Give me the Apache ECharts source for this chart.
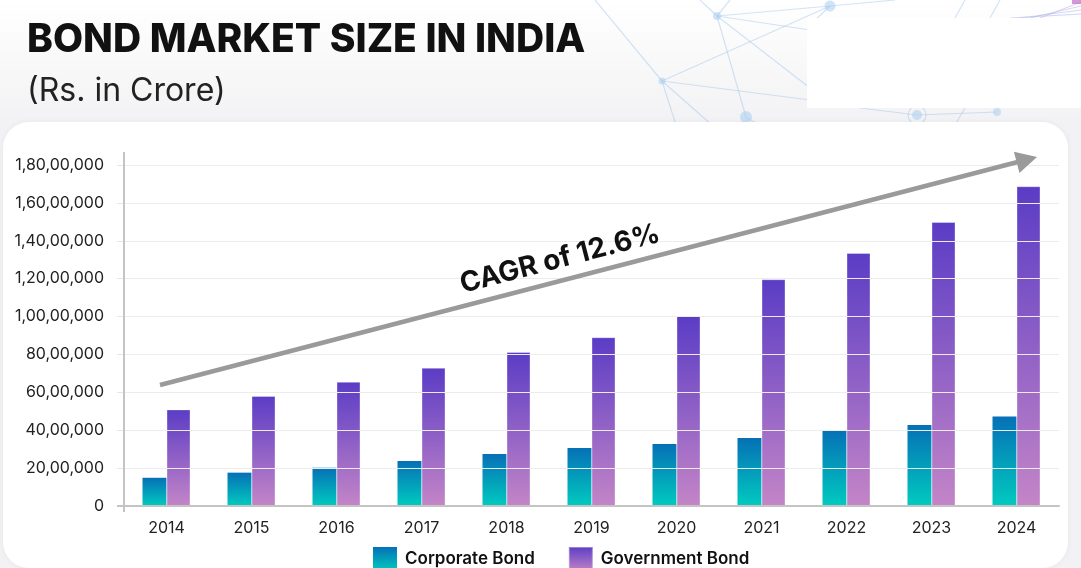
<!DOCTYPE html>
<html>
<head>
<meta charset="utf-8">
<style>
  html, body { margin: 0; padding: 0; background: #ffffff; }
  #chart { width: 1081px; height: 568px; }
</style>
<script src="https://cdn.jsdelivr.net/npm/echarts@6/dist/echarts.min.js"></script>
</head>
<body>
<div id="chart"></div>
<script>
// ---- data ----
const years = ['2014','2015','2016','2017','2018','2019','2020','2021','2022','2023','2024'];
const corporateBond = [1490000, 1760000, 2020000, 2380000, 2740000, 3060000, 3270000, 3590000, 4010000, 4280000, 4730000];
const governmentBond = [5100000, 5810000, 6560000, 7300000, 8130000, 8910000, 10030000, 11970000, 13360000, 14990000, 16880000];
const seriesNames = ['Corporate Bond', 'Government Bond'];
const titleText = 'BOND MARKET SIZE IN INDIA';
const subtitleText = '(Rs. in Crore)';
const cagrText = 'CAGR of 12.6%';

function inr(v) {
  const s = String(Math.round(v));
  if (s.length <= 3) return s;
  const last3 = s.slice(-3);
  let rest = s.slice(0, -3);
  rest = rest.replace(/\B(?=(\d{2})+(?!\d))/g, ',');
  return rest + ',' + last3;
}

const FONT = 'Inter, "Noto Sans", sans-serif';
const netColor = 'rgba(160,196,235,0.45)';
const nodeColor = 'rgba(170,205,240,0.55)';

function ln(x1, y1, x2, y2, w, c, z) {
  return { type: 'line', z: z || 1, silent: true,
    shape: { x1: x1, y1: y1, x2: x2, y2: y2 },
    style: { stroke: c || netColor, lineWidth: w || 1.2 } };
}
function node(cx, cy, r) {
  return { type: 'circle', z: 1, silent: true, shape: { cx: cx, cy: cy, r: r }, style: { fill: nodeColor } };
}

// arrow geometry (annotation)
const tip = [1037, 157], start = [160, 385];
const dx = tip[0] - start[0], dy = tip[1] - start[1];
const L = Math.sqrt(dx * dx + dy * dy);
const ux = dx / L, uy = dy / L, nx = -uy, ny = ux;
const headLen = 21, headHalf = 11;
const base = [tip[0] - ux * headLen, tip[1] - uy * headLen];
const angle = Math.atan2(-dy, dx);

const graphics = [
  // network decoration
  ln(595, 0, 662, 81),
  ln(662, 81, 830, 6),
  ln(662, 81, 810, 100),
  ln(662, 81, 676, 125),
  ln(662, 81, 712, 125),
  ln(717, 16, 830, 6),
  ln(717, 16, 810, 30),
  ln(717, 16, 746, 117),
  ln(717, 16, 810, 88),
  ln(700, 0, 717, 16),
  ln(730, 0, 717, 16),
  ln(830, 6, 895, 0),
  ln(830, 6, 810, 25),
  ln(745, 117, 760, 125),
  ln(917, 115, 997, 112),
  ln(860, 108, 917, 115),
  ln(955, 125, 965, 108),
  ln(955, 18, 965, 0),
  ln(990, 18, 1000, 0),
  node(662, 81, 3.5),
  node(717, 16, 4),
  node(830, 6, 5.5),
  node(746, 117, 6),
  node(917, 115, 5),
  { type: 'circle', z: 1, silent: true, shape: { cx: 917, cy: 115, r: 9 }, style: { fill: 'none', stroke: nodeColor, lineWidth: 1.2 } },
  node(997, 112, 4),
  // purple fan top right
  ln(1040, 18, 1081, 2, 1, 'rgba(200,160,220,0.5)'),
  ln(1030, 18, 1081, 6, 1, 'rgba(170,180,235,0.5)'),
  ln(1020, 18, 1081, 10, 1, 'rgba(170,180,235,0.5)'),
  ln(1010, 18, 1081, 14, 1, 'rgba(170,180,235,0.5)'),
  { type: 'rect', z: 1, silent: true, shape: { x: 1072, y: 0, width: 9, height: 4 }, style: { fill: 'rgba(190,110,200,0.7)' } },
  // white patch
  { type: 'rect', z: 2, silent: true, shape: { x: 807, y: 18, width: 274, height: 90 }, style: { fill: '#ffffff' } },
  // card
  { type: 'rect', z: 3, silent: true, shape: { x: 3, y: 122, width: 1065, height: 446, r: 26 },
    style: { fill: '#ffffff', shadowBlur: 6, shadowColor: 'rgba(0,0,0,0.05)' } },
  // y axis line extension
  ln(124, 152, 124, 512, 2, '#c4c4c4', 50),
  ln(117, 506, 124, 506, 2, '#c4c4c4', 50),
  // trend arrow
  { type: 'line', z: 100, silent: true,
    shape: { x1: start[0], y1: start[1], x2: base[0] + ux * 2, y2: base[1] + uy * 2 },
    style: { stroke: '#9a9a9a', lineWidth: 4.5 } },
  { type: 'polygon', z: 100, silent: true,
    shape: { points: [tip, [base[0] + nx * headHalf, base[1] + ny * headHalf], [base[0] - nx * headHalf, base[1] - ny * headHalf]] },
    style: { fill: '#9a9a9a' } },
  { type: 'text', z: 101, silent: true, x: 560, y: 259, rotation: angle,
    style: { text: cagrText, font: 'bold 28px ' + FONT, fill: '#111111', align: 'center', verticalAlign: 'middle' } }
];

const chart = echarts.init(document.getElementById('chart'), null, { renderer: 'canvas' });
chart.setOption({
  backgroundColor: new echarts.graphic.LinearGradient(0, 0, 0, 1, [
    { offset: 0, color: '#ffffff' },
    { offset: 0.22, color: '#f2f2f4' },
    { offset: 1, color: '#f2f2f4' }
  ]),
  animation: false,
  title: {
    text: titleText,
    subtext: subtitleText,
    left: 22,
    top: 16,
    itemGap: 15,
    z: 20,
    textStyle: { fontFamily: FONT, fontSize: 39, fontWeight: 800, color: '#111111', letterSpacing: -0.1 },
    subtextStyle: { fontFamily: FONT, fontSize: 32, fontWeight: 400, color: '#222222', letterSpacing: -0.5 }
  },
  graphic: graphics,
  legend: {
    data: seriesNames,
    top: 541,
    left: 368,
    itemWidth: 24,
    itemHeight: 24,
    itemGap: 33,
    icon: 'rect',
    z: 20,
    textStyle: { fontFamily: FONT, fontSize: 17, fontWeight: 600, color: '#111111', padding: [3, 0, 0, 3] }
  },
  grid: { left: 124, right: 22, top: 165, bottom: 62, containLabel: false },
  xAxis: {
    type: 'category',
    data: years,
    z: 10,
    axisLine: { lineStyle: { color: '#c4c4c4', width: 2 } },
    axisTick: { show: false },
    axisLabel: { fontFamily: FONT, fontSize: 16, color: '#222222', margin: 14 }
  },
  yAxis: {
    type: 'value',
    min: 0,
    max: 18000000,
    interval: 2000000,
    z: 10,
    axisLine: { show: true, lineStyle: { color: '#c4c4c4', width: 2 } },
    axisTick: { show: true, length: 7, lineStyle: { color: '#e6e6e6' } },
    splitLine: { lineStyle: { color: '#ececec', width: 1 } },
    axisLabel: { fontFamily: FONT, fontSize: 16, color: '#222222', margin: 20, formatter: inr }
  },
  series: [
    {
      name: seriesNames[0],
      type: 'bar',
      data: corporateBond,
      barWidth: 24,
      barGap: '0%',
      z: 5,
      itemStyle: {
        color: new echarts.graphic.LinearGradient(0, 0, 0, 1, [
          { offset: 0, color: '#0670b6' },
          { offset: 1, color: '#00cbbf' }
        ])
      }
    },
    {
      name: seriesNames[1],
      type: 'bar',
      data: governmentBond,
      barWidth: 24,
      z: 5,
      itemStyle: {
        borderColor: 'rgba(255,255,255,0.35)',
        borderWidth: 1,
        color: new echarts.graphic.LinearGradient(0, 0, 0, 1, [
          { offset: 0, color: '#5a3cc5' },
          { offset: 1, color: '#c485c7' }
        ])
      }
    }
  ]
});
</script>
</body>
</html>
